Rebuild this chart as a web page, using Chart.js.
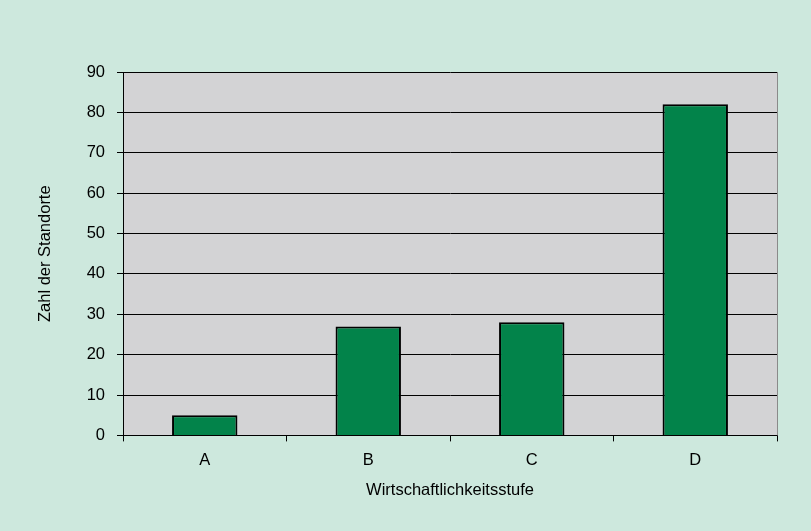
<!DOCTYPE html>
<html>
<head>
<meta charset="utf-8">
<script src="https://cdn.jsdelivr.net/npm/chart.js@4/dist/chart.umd.min.js"></script>
<style>
html,body{margin:0;padding:0;background:#cde8dd;}
#wrap{width:811px;height:531px;position:relative;}
</style>
</head>
<body>
<div id="wrap"><canvas id="c" width="811" height="531"></canvas></div>
<script>
const categories = ['A', 'B', 'C', 'D'];
const values = [5, 27, 28, 82];
const yTicks = [0, 10, 20, 30, 40, 50, 60, 70, 80, 90];
const xTitle = 'Wirtschaftlichkeitsstufe';
const yTitle = 'Zahl der Standorte';

const bgPlugin = {
  id: 'bg',
  beforeDraw(chart) {
    const {ctx, chartArea: a} = chart;
    ctx.save();
    ctx.fillStyle = '#cde8dd';
    ctx.fillRect(0, 0, chart.width, chart.height);
    ctx.fillStyle = '#d3d3d5';
    ctx.fillRect(a.left, a.top, a.right - a.left, a.bottom - a.top);
    ctx.restore();
  },
  afterDatasetsDraw(chart) {
    const {ctx, chartArea: a} = chart;
    ctx.save();
    ctx.strokeStyle = '#8a8a8a';
    ctx.lineWidth = 1;
    ctx.beginPath();
    ctx.moveTo(a.right + 0.5, a.top);
    ctx.lineTo(a.right + 0.5, a.bottom);
    ctx.stroke();
    ctx.restore();
  }
};

const font = {family: '"Liberation Sans", Arial, sans-serif', size: 16.5};

new Chart(document.getElementById('c'), {
  type: 'bar',
  data: {
    labels: categories,
    datasets: [{
      data: values,
      backgroundColor: '#02834a',
      borderColor: '#000',
      borderWidth: 2,
      borderSkipped: 'start',
      barPercentage: 0.4,
      categoryPercentage: 1.0
    }]
  },
  options: {
    responsive: false,
    animation: false,
    devicePixelRatio: 1,
    layout: {padding: {left: 32, right: 34, top: 72, bottom: 31}},
    plugins: {legend: {display: false}, tooltip: {enabled: false}},
    scales: {
      x: {
        grid: {offset: true, drawOnChartArea: false, drawTicks: true, tickLength: 6, color: '#000', lineWidth: 1},
        border: {display: true, color: '#000', width: 1},
        ticks: {color: '#000', font: font, padding: 9},
        title: {display: true, text: xTitle, color: '#000', font: font, padding: {top: 1, bottom: 0}}
      },
      y: {
        min: 0, max: 90,
        afterBuildTicks(scale) { scale.ticks = yTicks.map(v => ({value: v})); },
        afterFit(scale) { scale.width = 91; },
        grid: {color: '#000', lineWidth: 1, drawTicks: true, tickLength: 6},
        border: {display: true, color: '#000', width: 1},
        ticks: {color: '#000', font: font, padding: 12},
        title: {display: true, text: yTitle, color: '#000', font: font, padding: 4}
      }
    }
  },
  plugins: [bgPlugin]
});
</script>
</body>
</html>
